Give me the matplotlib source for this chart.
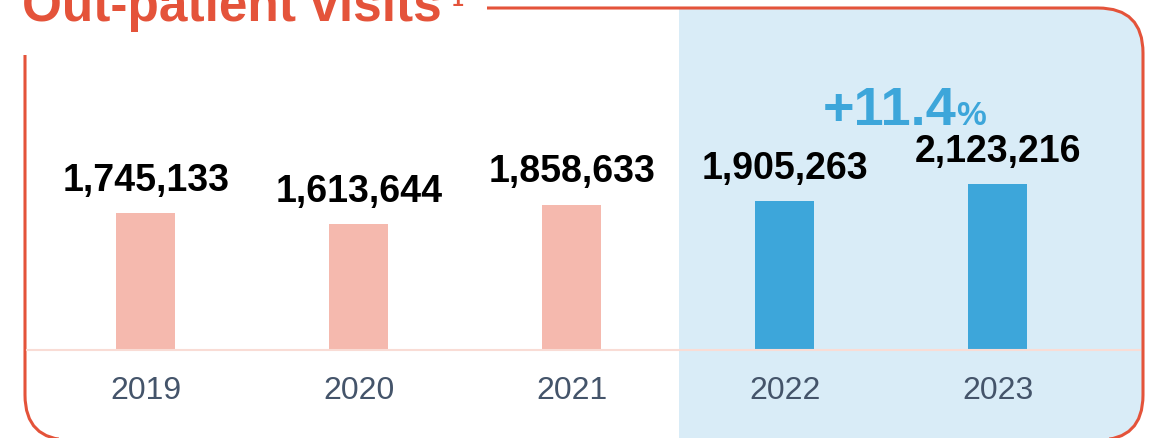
import matplotlib
matplotlib.use("Agg")
import matplotlib.pyplot as plt
from matplotlib.patches import FancyBboxPatch, Rectangle, Polygon
from matplotlib.transforms import blended_transform_factory

plt.rcParams['font.family'] = ['Liberation Sans', 'DejaVu Sans']

# data
years = ['2019', '2020', '2021', '2022', '2023']
visits = [1745133, 1613644, 1858633, 1905263, 2123216]
bar_colors = ['#F5B9AE', '#F5B9AE', '#F5B9AE', '#3DA6DA', '#3DA6DA']
title = "Out-patient visits"

orange = '#E4533A'
blue = '#3DA6DA'

fig = plt.figure(figsize=(11.5, 4.38), dpi=100)

# background layer in pixel coordinates
bg = fig.add_axes([0, 0, 1, 1])
bg.set_xlim(0, 1150)
bg.set_ylim(438, 0)
bg.axis('off')

# rounded frame, flattened to line segments (curves get mangled when clipped at the edge)
box = FancyBboxPatch((25, 8), 1118, 432, boxstyle='round,pad=0,rounding_size=45')
verts = box.get_path().to_polygons()[0]
border = Polygon(verts, closed=True, facecolor='none', edgecolor=orange,
                 linewidth=2.2, zorder=3)
bg.add_patch(border)
shade = Rectangle((679, 0), 520, 440, facecolor='#D9ECF7', edgecolor='none', zorder=1)
bg.add_patch(shade)
shade.set_clip_path(border)
# gap in the frame behind the title
bg.add_patch(Rectangle((0, 0), 487, 55, facecolor='white', edgecolor='none', zorder=4))

bg.text(22, 21, title, fontsize=37, fontweight='bold', color=orange, va='baseline', ha='left', zorder=5)
bg.text(452, 6, '1', fontsize=15, fontweight='bold', color=orange, va='baseline', ha='left', zorder=5)

# main chart
ax = fig.add_axes([27 / 1150, 88 / 438, 1113 / 1150, 290 / 438])
ax.patch.set_alpha(0)
x = range(len(years))
ax.bar(x, visits, width=0.277, color=bar_colors, zorder=2)
ax.set_xlim(-0.5587, 4.667)
ax.set_ylim(0, 290 * 12780)

for s in ['top', 'left', 'right']:
    ax.spines[s].set_visible(False)
ax.spines['bottom'].set_color('#F9DCD5')
ax.spines['bottom'].set_linewidth(1.5)
ax.set_yticks([])
ax.set_xticks(list(x), years)
ax.tick_params(axis='x', length=0, pad=19, labelsize=23, labelcolor='#44546A')

for i, v in enumerate(visits):
    ax.annotate(f"{v:,}", (i, v), xytext=(0, 16), textcoords='offset points',
                ha='center', va='baseline', fontsize=27, fontweight='bold', color='black')

growth = (visits[-1] / visits[-2] - 1) * 100
tr = blended_transform_factory(ax.transData, ax.transAxes)
ax.text(3.178, 0.776, f"+{growth:.1f}", transform=tr, fontsize=39, fontweight='bold',
        color=blue, ha='left', va='baseline')
ax.text(3.805, 0.776, "%", transform=tr, fontsize=24, fontweight='bold',
        color=blue, ha='left', va='baseline')

fig.savefig('out.png', dpi=100)
